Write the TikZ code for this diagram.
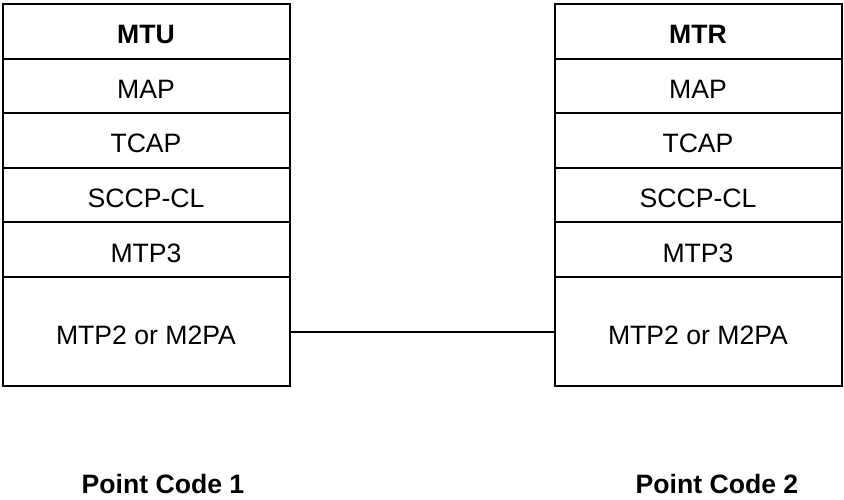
\documentclass[tikz,border=0pt]{standalone}
\usepackage{fontspec}
\setmainfont{Liberation Sans}
\usetikzlibrary{positioning}

\begin{document}
\begin{tikzpicture}[x=1pt, y=1pt,
  layer/.style={draw, line width=2pt, minimum width=287pt, minimum height=54.6pt,
    inner sep=0pt, outer sep=0pt, text height=25pt, text depth=0pt,
    font=\fontsize{26.6}{32}\selectfont},
  headlayer/.style={layer, font=\fontsize{26.6}{32}\selectfont\bfseries},
  linklayer/.style={layer, minimum height=109pt},
  pcode/.style={anchor=base, font=\fontsize{26.6}{32}\selectfont\bfseries}]
\useasboundingbox (0,0) rectangle (844,-500);

% stack on the MTU side
\node[headlayer] (mtu) at (146,-31.3) {MTU};
\node[layer, below=0pt of mtu] (mapL) {MAP};
\node[layer, below=0pt of mapL] (tcapL) {TCAP};
\node[layer, below=0pt of tcapL] (sccpL) {SCCP-CL};
\node[layer, below=0pt of sccpL] (mtpL) {MTP3};
\node[linklayer, below=0pt of mtpL] (linkL) {MTP2 or M2PA};

% stack on the MTR side
\node[headlayer] (mtr) at (698,-31.3) {MTR};
\node[layer, below=0pt of mtr] (mapR) {MAP};
\node[layer, below=0pt of mapR] (tcapR) {TCAP};
\node[layer, below=0pt of tcapR] (sccpR) {SCCP-CL};
\node[layer, below=0pt of sccpR] (mtpR) {MTP3};
\node[linklayer, below=0pt of mtpR] (linkR) {MTP2 or M2PA};

% signalling link
\draw[line width=2pt] (linkL.east) -- (linkR.west);

% point codes
\node[pcode] (pc1) at (163,-493) {Point Code 1};
\node[pcode] (pc2) at (717,-493) {Point Code 2};
\end{tikzpicture}
\end{document}
